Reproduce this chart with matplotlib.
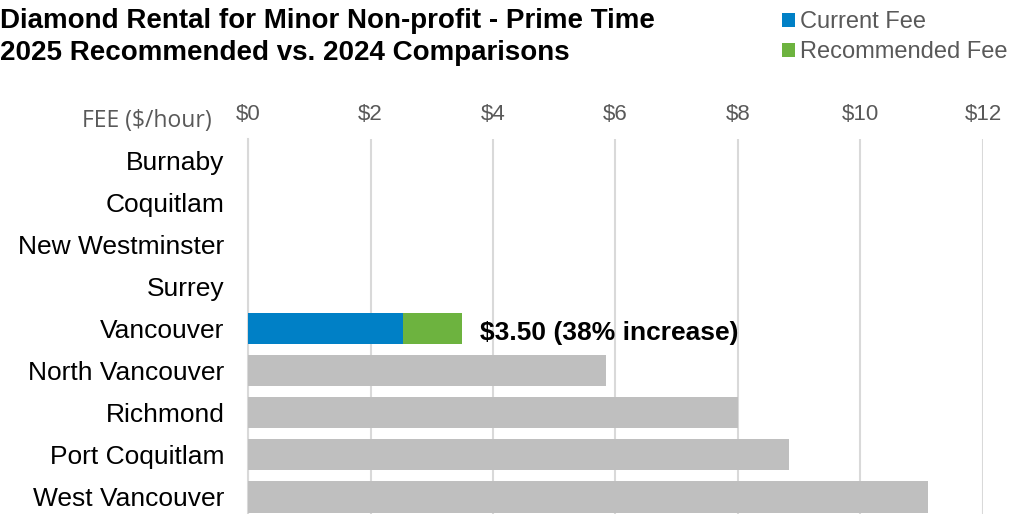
import matplotlib.pyplot as plt
import numpy as np

cities = ['Burnaby', 'Coquitlam', 'New Westminster', 'Surrey', 'Vancouver',
          'North Vancouver', 'Richmond', 'Port Coquitlam', 'West Vancouver']
current_fee = [0, 0, 0, 0, 2.53, 0, 0, 0, 0]
recommended_extra = [0, 0, 0, 0, 0.97, 0, 0, 0, 0]
comparison_fee = [0, 0, 0, 0, 0, 5.85, 8.0, 8.83, 11.1]
xticks = [0, 2, 4, 6, 8, 10, 12]

BLUE = '#0080c6'
GREEN = '#6db33f'
GREY = '#bfbfbf'
TXT = '#595959'

plt.rcParams['font.family'] = ['Liberation Sans', 'DejaVu Sans']

fig = plt.figure(figsize=(10.09, 5.14), dpi=100)
ax = fig.add_axes([248 / 1009, -4 / 514, (983 - 248) / 1009, 379 / 514])

y = np.arange(len(cities))
h = 0.74
ax.barh(y, current_fee, height=h, color=BLUE, label='Current Fee', zorder=3)
ax.barh(y, recommended_extra, height=h, left=current_fee, color=GREEN,
        label='Recommended Fee', zorder=3)
ax.barh(y, comparison_fee, height=h, color=GREY, zorder=3)

ax.set_xlim(0, 12)
ax.set_ylim(len(cities) - 0.5, -0.5)
ax.set_yticks(y)
ax.set_yticklabels(cities, fontsize=19, color='black')
ax.set_xticks(xticks)
ax.set_xticklabels([f'${t}' for t in xticks], fontsize=16, color=TXT)
ax.xaxis.tick_top()
ax.tick_params(axis='both', length=0)
ax.tick_params(axis='y', pad=17)
ax.tick_params(axis='x', pad=10)
ax.grid(axis='x', color='#d9d9d9', linewidth=1.5, zorder=0)
for s in ['top', 'right', 'bottom']:
    ax.spines[s].set_visible(False)
ax.spines['left'].set_color('#d9d9d9')
ax.spines['left'].set_linewidth(1.5)

# annotation for Vancouver total
i = cities.index('Vancouver')
total = current_fee[i] + recommended_extra[i]
ax.annotate(f'${total:.2f} (38% increase)', xy=(total, i), xytext=(13, -3),
            textcoords='offset points', va='center', ha='left',
            fontsize=19, fontweight='bold')

fig.text(212 / 1009, 1 - 121 / 514, 'FEE ($/hour)', ha='right', va='center',
         fontsize=16.5, color=TXT, family=['Open Sans', 'DejaVu Sans'])

fig.text(0.0, 1 - 21 / 514, 'Diamond Rental for Minor Non-profit - Prime Time',
         ha='left', va='center', fontsize=20, fontweight='bold')
fig.text(0.0, 1 - 53 / 514, '2025 Recommended vs. 2024 Comparisons',
         ha='left', va='center', fontsize=20, fontweight='bold')

leg = fig.legend(loc='upper left', bbox_to_anchor=(782 / 1009, 1 - 11 / 514),
                 frameon=False, fontsize=17, handlelength=0.55, handleheight=0.55,
                 handletextpad=0.2, labelspacing=0.35, borderaxespad=0,
                 borderpad=0)
for t in leg.get_texts():
    t.set_color(TXT)

fig.savefig('out.png', dpi=100)
